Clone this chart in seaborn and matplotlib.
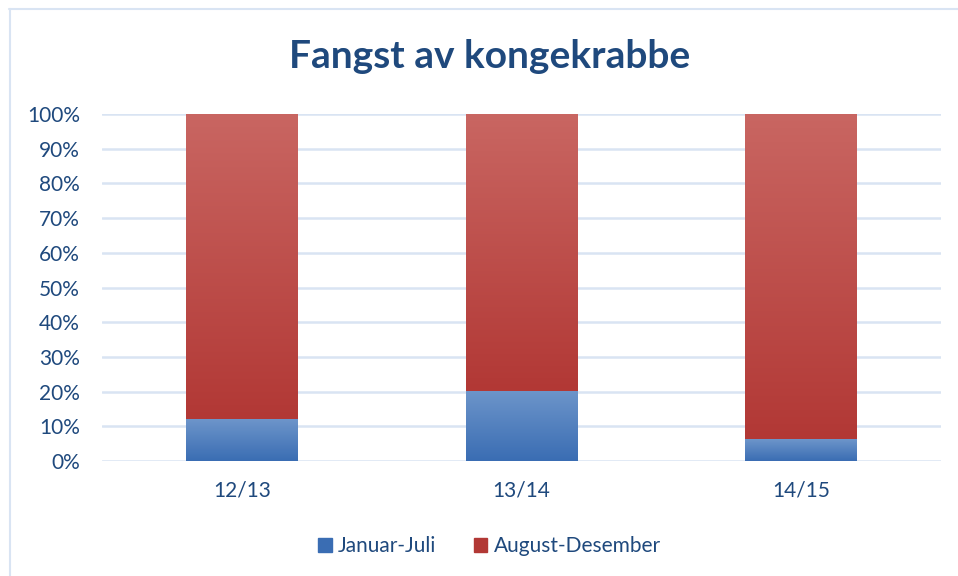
import numpy as np
import pandas as pd
import matplotlib
matplotlib.use("Agg")
import matplotlib.pyplot as plt
import seaborn as sns
from matplotlib.colors import LinearSegmentedColormap
from matplotlib.ticker import MultipleLocator, FuncFormatter

# data (share of catch per season, in percent)
seasons = ["12/13", "13/14", "14/15"]
jan_jul = [12.0, 20.3, 6.3]
aug_des = [88.0, 79.7, 93.7]
series_names = ["Januar-Juli", "August-Desember"]

TEXT = "#1f497d"
GRID = "#d9e4f3"
BLUE_TOP, BLUE_BOT = "#6d95ca", "#3a6db3"
RED_TOP, RED_BOT = "#c96662", "#b23835"

sns.set_theme(style="white")
plt.rcParams["font.family"] = ["Lato", "DejaVu Sans"]

df = pd.DataFrame({"season": seasons, "jan": jan_jul, "aug": aug_des})
df["total"] = df["jan"] + df["aug"]

fig = plt.figure(figsize=(9.58, 5.76), dpi=100)
ax = fig.add_axes([102 / 958, 1 - 461 / 576, 839 / 958, 347 / 576])

# stacked bars: full total in red, lower part in blue on top
sns.barplot(data=df, x="season", y="total", color=RED_BOT, width=0.4,
            saturation=1, ax=ax, zorder=3)
sns.barplot(data=df, x="season", y="jan", color=BLUE_BOT, width=0.4,
            saturation=1, ax=ax, zorder=3)

# gradient fill per segment, like the office chart
red_cmap = LinearSegmentedColormap.from_list("r", [RED_BOT, RED_TOP])
blue_cmap = LinearSegmentedColormap.from_list("b", [BLUE_BOT, BLUE_TOP])
grad = np.linspace(0, 1, 256).reshape(-1, 1)
n = len(seasons)
for i, p in enumerate(ax.patches):
    x0, y0 = p.get_x(), p.get_y()
    w, h = p.get_width(), p.get_height()
    if i < n:
        # red: only the part above the blue segment
        y0 = df["jan"].iloc[i]
        h = df["total"].iloc[i] - y0
        cmap = red_cmap
    else:
        cmap = blue_cmap
    im = ax.imshow(grad, cmap=cmap, origin="lower", aspect="auto",
                   extent=[x0, x0 + w, y0, y0 + h], zorder=4)
    im.set_clip_path(p)
    p.set_edgecolor("none")

ax.set_xlim(-0.5, n - 0.5)
ax.set_ylim(0, 100)
ax.yaxis.set_major_locator(MultipleLocator(10))
ax.yaxis.set_major_formatter(FuncFormatter(lambda v, _: f"{v:.0f}%"))
ax.grid(axis="y", color=GRID, linewidth=1.8, zorder=0)
ax.set_axisbelow(True)
for s in ax.spines.values():
    s.set_visible(False)
ax.set_xlabel("")
ax.set_ylabel("")
ax.tick_params(axis="both", length=0, labelsize=15, colors=TEXT)
ax.tick_params(axis="y", pad=16)
ax.tick_params(axis="x", pad=14)

fig.text(0.511, 1 - 57 / 576, "Fangst av kongekrabbe", ha="center",
         va="center", fontsize=28, fontweight="bold", color=TEXT)

handles = [plt.Rectangle((0, 0), 1, 1, color=BLUE_BOT),
           plt.Rectangle((0, 0), 1, 1, color=RED_BOT)]
fig.legend(handles, series_names, loc="center", ncol=2, frameon=False,
           bbox_to_anchor=(0.511, 1 - 546 / 576), fontsize=15,
           labelcolor=TEXT, handlelength=0.65, handleheight=0.65,
           handletextpad=0.3, columnspacing=1.8)

# frame of the embedded chart (top and left edges visible)
fig.add_artist(plt.Line2D([9 / 958, 1], [1 - 9 / 576] * 2, color=GRID,
                          linewidth=1.5))
fig.add_artist(plt.Line2D([10 / 958] * 2, [0, 1 - 9 / 576], color=GRID,
                          linewidth=1.5))

fig.savefig("out.png", dpi=100)
